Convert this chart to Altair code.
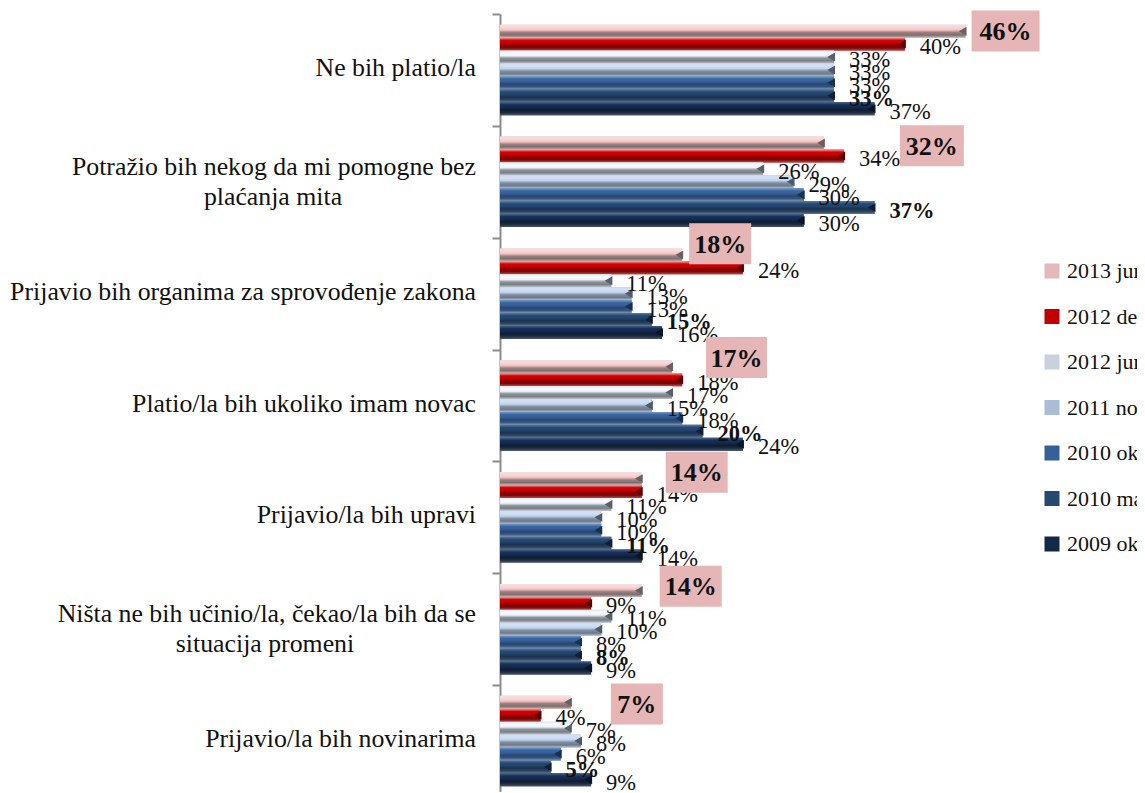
import altair as alt
import pandas as pd

categories = [
    "Ne bih platio/la",
    "Potražio bih nekog da mi pomogne bez",
    "Prijavio bih organima za sprovođenje zakona",
    "Platio/la bih ukoliko imam novac",
    "Prijavio/la bih upravi",
    "Ništa ne bih učinio/la, čekao/la bih da se",
    "Prijavio/la bih novinarima",
]
second_lines = {categories[1]: "plaćanja mita", categories[5]: "situacija promeni"}
series = ["2013 jun", "2012 dec", "2012 jun", "2011 nov", "2010 okt", "2010 mart", "2009 okt"]
v2013jun = [46, 32, 18, 17, 14, 14, 7]
v2012dec = [40, 34, 24, 18, 14, 9, 4]
v2012jun = [33, 26, 11, 17, 11, 11, 7]
v2011nov = [33, 29, 13, 15, 10, 10, 8]
v2010okt = [33, 30, 13, 18, 10, 8, 6]
v2010mar = [33, 37, 15, 20, 11, 8, 5]
v2009okt = [37, 30, 16, 24, 14, 9, 9]
all_values = [v2013jun, v2012dec, v2012jun, v2011nov, v2010okt, v2010mar, v2009okt]

legend_colors = ["#e3b9b9", "#c00000", "#c9d2dc", "#a9bdd6", "#36609a", "#254770", "#14294a"]
cap_colors = ["#6b6060", "#5a0000", "#5a6068", "#4d5a68", "#1a3050", "#101f33", "#0a1422"]
bevels = [
    ["#e6e6e6", "#ffd4d4", "#f4c6c6", "#9c7f7f", "#7d6e6e", "#c9b4b4"],
    ["#e8b0b0", "#d80000", "#c80000", "#8c0000", "#7a0808", "#b45050"],
    ["#e2e6ea", "#f4fafe", "#eef4fa", "#8a9098", "#7a8088", "#c0c8d2"],
    ["#d4dce8", "#cfe0f6", "#c0d4ee", "#7f8c9c", "#6e7a8a", "#b0c0d4"],
    ["#7e9abc", "#3a68a4", "#33609a", "#28466e", "#36557c", "#7e98b8"],
    ["#5e7c9e", "#264a76", "#22446c", "#1b3150", "#2c4460", "#63788f"],
    ["#4a6484", "#15305a", "#122a50", "#101c30", "#1e2c40", "#46586e"],
]
# Hand-moved callouts of the 2013 jun series: gap after the bar end, box width, vertical shift
callout_gap = [6, 76, 7, 34, 24, 18, 40]
callout_width = [68, 64, 62, 61, 62, 62, 52]
callout_shift = [-39, -36, -50, -48, -45, -43, -37]

font = "Liberation Serif"
records = [
    {"cat": c, "series": s, "value": vals[i], "label": f"{vals[i]}%"}
    for s, vals in zip(series, all_values)
    for i, c in enumerate(categories)
]
df = pd.DataFrame(records)

y = alt.Y(
    "cat:N",
    sort=categories,
    scale=alt.Scale(domain=categories, paddingInner=0, paddingOuter=0, range=[0, 783]),
    axis=alt.Axis(
        title=None, labels=False, tickBand="extent", tickSize=8, tickWidth=2,
        tickColor="#8c8c8c", domainColor="#8c8c8c", domainWidth=2, grid=False,
    ),
)
x_scale = alt.Scale(domain=[0, 62.94], nice=False, zero=True)
x = alt.X("value:Q", scale=x_scale, axis=None)
yo = alt.YOffset(
    "series:N", sort=series,
    scale=alt.Scale(domain=series, paddingInner=0, paddingOuter=0.83, align=0.5),
)

base = alt.Chart(df)
layers = [
    base.mark_bar(size=13).encode(
        x=x, y=y, yOffset=yo,
        color=alt.Color(
            "series:N",
            scale=alt.Scale(domain=series, range=legend_colors),
            legend=alt.Legend(
                title=None, orient="none", legendX=541, legendY=246,
                symbolType="square", symbolSize=225, symbolStrokeWidth=0,
                labelFont=font, labelFontSize=22, labelColor="#111111",
                labelOffset=4, rowPadding=23.5, labelLimit=200,
            ),
        ),
    )
]
for s, stops, cap in zip(series, bevels, cap_colors):
    n = len(stops) - 1
    grad = alt.Gradient(
        gradient="linear", x1=0, x2=0, y1=0, y2=1,
        stops=[alt.GradientStop(offset=i / n, color=col) for i, col in enumerate(stops)],
    )
    sub = base.transform_filter(alt.datum.series == s)
    layers.append(sub.mark_bar(size=13, color=grad).encode(x=x, y=y, yOffset=yo))
    layers.append(
        sub.transform_calculate(tip="datum.value - 0.28")
        .mark_point(shape="triangle-left", filled=True, size=80, color=cap, opacity=1)
        .encode(x=alt.X("tip:Q", scale=x_scale, axis=None), y=y, yOffset=yo)
    )

# data labels (all series except the highlighted one)
for weight, keep in (("normal", [s for s in series[1:] if s != "2010 mart"]), ("bold", ["2010 mart"])):
    layers.append(
        base.transform_filter(alt.FieldOneOfPredicate(field="series", oneOf=keep))
        .mark_text(align="left", baseline="middle", dx=15, dy=3, font=font, fontSize=22.5,
                   fontWeight=weight, color="#111111")
        .encode(x=x, y=y, yOffset=yo, text="label:N")
    )

# highlighted callouts
for i, c in enumerate(categories):
    one = pd.DataFrame([{"cat": c, "value": v2013jun[i], "label": f"{v2013jun[i]}%"}])
    ch = alt.Chart(one)
    g, w, sh = callout_gap[i], callout_width[i], callout_shift[i]
    layers.append(
        ch.mark_bar(size=41, color="#e6b5b5", xOffset=g, x2Offset=g + w, yOffset=sh).encode(
            x=x, x2=alt.X2("value:Q"), y=y
        )
    )
    layers.append(
        ch.mark_text(align="center", baseline="middle", dx=g + w / 2, dy=sh + 1, font=font,
                     fontSize=26, fontWeight="bold", color="#111111").encode(x=x, y=y, text="label:N")
    )

# category labels, second lines centred under the first as in the reference
cat_text = dict(font=font, fontSize=25.8, color="#111111", baseline="middle")
for c in categories:
    one = alt.Chart(pd.DataFrame([{"cat": c, "line": c, "second": second_lines.get(c, "")}]))
    two = c in second_lines
    layers.append(
        one.mark_text(align="right", dy=-15 if two else -2, **cat_text).encode(
            x=alt.value(-24), y=y, text="line:N"
        )
    )
    if two:
        layers.append(
            one.mark_text(align="center", dy=15, **cat_text).encode(
                x=alt.value(-227 if c == categories[1] else -235), y=y, text="second:N"
            )
        )

chart = (
    alt.layer(*layers)
    .properties(
        width=637, height=778, background="white",
        autosize=alt.AutoSizeParams(type="none"),
        padding={"left": 492, "top": 6, "right": 0, "bottom": 0},
    )
    .configure_view(stroke=None)
)
chart.save("out.html", embed_options={"renderer": "svg", "actions": False})
